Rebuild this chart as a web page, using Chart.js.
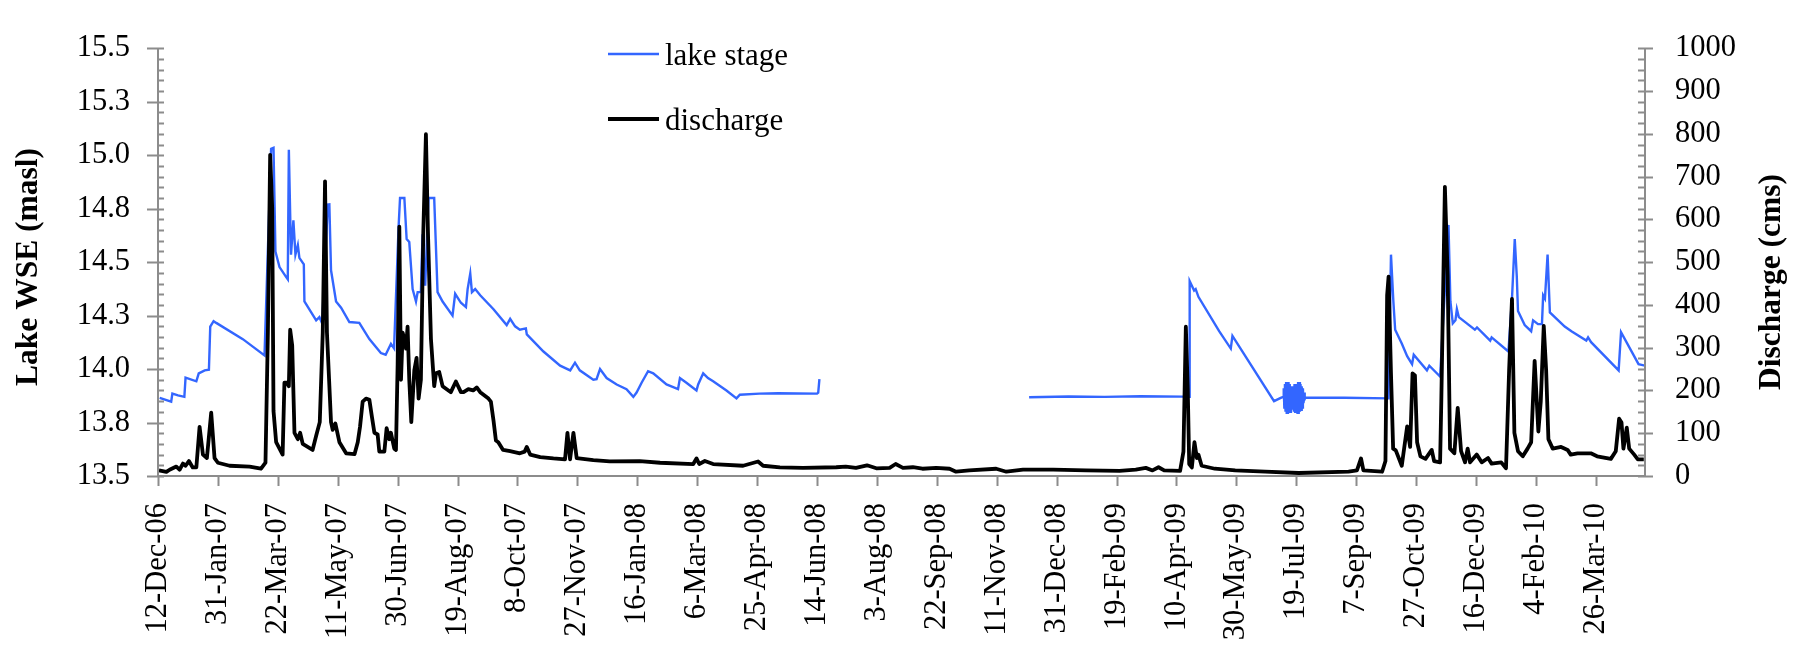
<!DOCTYPE html>
<html>
<head>
<meta charset="utf-8">
<script src="https://cdn.jsdelivr.net/npm/chart.js@4.4.1/dist/chart.umd.min.js"></script>
<style>
  html, body { margin: 0; padding: 0; background: #fff; }
  #wrap { width: 1805px; height: 645px; }
</style>
</head>
<body>
<div id="wrap"><canvas id="c" width="1805" height="645"></canvas></div>
<script>
// ---------- DATA (days counted from 12-Dec-06) ----------
const tickLabels = ["12-Dec-06","31-Jan-07","22-Mar-07","11-May-07","30-Jun-07","19-Aug-07","8-Oct-07",
  "27-Nov-07","16-Jan-08","6-Mar-08","25-Apr-08","14-Jun-08","3-Aug-08","22-Sep-08","11-Nov-08",
  "31-Dec-08","19-Feb-09","10-Apr-09","30-May-09","19-Jul-09","7-Sep-09","27-Oct-09","16-Dec-09",
  "4-Feb-10","26-Mar-10"];

const stageDays = [1.4,11,12,16.7,22,23,32,34,39,42.5,43.6,46.4,48.6,70.8,88.9,94.4,96.4,98,101.4,107,108.3,109.2,
  111,113,114.7,116.7,118,121.7,122.2,132,134.7,137,141.7,143,144.4,148.6,152.8,159.7,168,176.4,186,190,194.4,197,
  200.8,202,205.6,207.5,209.7,212.5,215.3,216.7,219.4,220.8,223,225.8,230.5,233.3,237.5,245.8,248,252.8,257,258.4,
  260.6,262,264.7,268.9,280,291,293.9,298,302,307,307.8,321.7,335.6,344,348,352,363.3,366,368.9,374.4,382.8,391,
  396.7,399.4,403.6,409,413.3,424.4,434,435.6,441,449.4,450.8,455,459,463.3,474.4,482.8,485.6,502,517.5,550,551,552,
  640,
  727,760,790,820,855,860.6,861,864.7,866,868.3,885.6,895.3,896.7,931.4,937,
  939,939.5,940,940.5,941,941.5,942,942.5,943,943.5,944,944.5,945,945.5,946,946.5,947,947.5,948,948.5,949,949.5,
  950,950.5,951,951.5,952,952.5,953,953.5,954,954.5,955,955.5,956,956.5,957,
  957.5,990,1027,1029,1031,1032.5,1038,1042.5,1046.6,1048,1059,1061,1070,1077,1078.6,1080.6,1082.8,1084,1085.6,
  1099,1100.8,1111.8,1113,1127,1130,1132.3,1134,1135,1140.6,1146,1147.6,1151.7,1155,1156,1157.5,1159.7,1161.6,
  1174,1179.6,1192,1193.5,1196,1219,1221,1235.6,1241];
const stageValues = [13.865,13.848,13.885,13.877,13.87,13.96,13.943,13.98,13.994,13.997,14.199,14.224,14.216,14.14,
  14.064,15.03,15.035,14.55,14.477,14.43,14.42,15.025,14.535,14.696,14.535,14.58,14.52,14.49,14.316,14.228,14.243,
  14.213,14.769,14.77,14.462,14.316,14.287,14.22,14.216,14.14,14.075,14.067,14.118,14.097,14.667,14.80,14.80,14.608,
  14.594,14.374,14.316,14.36,14.36,14.63,14.39,14.80,14.80,14.36,14.316,14.25,14.352,14.31,14.29,14.374,14.447,14.36,
  14.374,14.345,14.28,14.206,14.235,14.2,14.184,14.19,14.162,14.082,14.016,13.994,14.03,13.994,13.95,13.953,14.0,
  13.958,13.928,13.906,13.87,13.89,13.936,13.99,13.98,13.928,13.906,13.958,13.936,13.9,13.928,13.98,13.958,13.943,
  13.9,13.863,13.88,13.885,13.887,13.885,13.89,13.953,
  null,
  13.868,13.872,13.870,13.873,13.871,13.87,14.411,14.367,14.374,14.338,14.177,14.096,14.155,13.85,13.865,
  13.87,13.91,13.82,13.93,13.80,13.94,13.79,13.94,13.79,13.94,13.80,13.93,13.80,13.92,13.81,13.92,13.81,13.92,13.80,
  13.93,13.80,13.93,13.80,13.93,13.79,13.94,13.79,13.94,13.80,13.93,13.81,13.92,13.82,13.91,13.84,13.89,13.86,
  13.866,13.866,13.863,14.535,14.316,14.184,14.12,14.06,14.023,14.067,13.994,14.016,13.965,14.674,14.316,14.214,
  14.228,14.28,14.243,14.184,14.195,14.133,14.148,14.082,14.33,14.608,14.433,14.272,14.206,14.177,14.228,14.21,
  14.21,14.345,14.33,14.535,14.265,14.199,14.177,14.133,14.148,14.126,13.994,14.172,14.023,14.016];

const dischargeDays = [0.8,7,9.7,15.3,18,20.8,23,25.8,29,32,34.7,37.5,40.8,44.4,47.2,50,59.7,76.4,86,89.7,91.7,93.6,
  95.3,96.4,98.6,104,105.5,107.5,109.2,110.3,112,113.9,116.7,118.6,120.8,129,132,135,137.5,139.4,141,144.4,145.8,148,
  151.4,157,164,166.7,168.6,170.8,173.6,176.4,178.6,180.6,183.3,184.7,188.9,190.8,193,194.4,197.2,198.6,200,201.4,
  202.8,204.2,205.6,207,208.3,209.7,211.4,213.9,215.8,217.5,219.4,221.4,223.6,225.3,227.8,230.5,232,234.7,237.5,
  244.4,248.6,252.8,255,259,263,266,268.9,275.8,277.8,280,282,284,288,293.9,302,306,307.8,310.6,319,330,339.7,341.7,
  343.9,346.7,349.4,363.3,377,402,419,446.7,449.4,451.7,456.4,463.3,488.3,500.8,505,519,538.3,566,574,582.5,591.7,
  599.5,610.6,615.6,621.7,630,638,649.5,660.6,666,677,699.5,708,721.9,747,774.7,802.5,816,824.4,830,835,839.7,853,
  855.8,857.8,859.4,860.6,862.8,865,867,868.3,871,882,899,924,951.9,993.6,1000.6,1004,1006,1021.6,1024.4,1025.8,
  1027,1029,1030.8,1033,1038,1042.5,1045,1047,1049,1050.8,1053.6,1057.8,1063,1065,1070,1071,1074,1076.3,1078.3,
  1081.9,1084.7,1087.5,1090.8,1093,1095,1100.6,1104.7,1110,1113,1121,1125,1127.6,1130,1132,1135,1139,1143,1146,
  1148.9,1152,1154,1156.5,1158.5,1160.4,1164,1171,1176.4,1179,1184.7,1195.8,1201,1212.5,1216.6,1219.4,1221.4,1223,
  1225.8,1227.8,1232,1235,1240];
const dischargeValues = [13,9.5,14.6,22,14.6,29,24,35,20,20,115,50,42,148,42,31,24,22,17,31,335,751,627,152,79,50,218,
  218,210,342,305,101,86,101,75,61,94,126,335,689,335,126,108,123,79,53,51,79,115,174,181,178,137,101,97,57,57,112,
  86,101,64,61,262,583,225,335,320,298,349,225,126,247,276,181,225,569,799,569,320,210,240,243,210,196,221,196,196,
  203,200,207,196,181,174,130,83,79,61,58,53,57,68,50,44,41,39,101,39,101,42,37,34,35,31,28,41,28,35,28,24,34,24,20,
  19,20.5,22,19,25,18,19,28,19,20.5,17,19,17,10,13,17,10,15,15,13,12,15,19,13,20.5,13,12,57,349,203,28,20,79,42,50,
  24,17,13,10,7,10,13,41,13,10,35,423,466,240,64,60,24,116,68,240,235,79,46,40,61,35,32,174,676,469,64,53,159,58,
  32,64,32,50,32,42,29,32,18,247,414,101,58,46,64,79,269,104,174,351,247,86,64,68,61,50,53,53,46,40,58,134,125,64,
  113,64,50,39,39];

const leftTitle = "Lake WSE (masl)";
const rightTitle = "Discharge (cms)";

// ---------- STYLE ----------
const FONT = "'Liberation Serif', 'Times New Roman', serif";
const AXIS_COLOR = "#8c8c8c";
const BLUE = "#3366ff";

const stagePts = stageDays.map((d, i) => ({ x: d, y: stageValues[i] }));
const dischargePts = dischargeDays.map((d, i) => ({ x: d, y: dischargeValues[i] }));

const axesPlugin = {
  id: 'axesPlugin',
  afterDraw(chart) {
    const ctx = chart.ctx;
    const a = chart.chartArea;
    const sx = chart.scales.x, sy = chart.scales.y, sy2 = chart.scales.y2;
    ctx.save();
    ctx.strokeStyle = AXIS_COLOR;
    ctx.lineWidth = 2;
    ctx.beginPath();
    ctx.moveTo(a.left, a.top); ctx.lineTo(a.left, a.bottom);
    ctx.moveTo(a.right, a.top); ctx.lineTo(a.right, a.bottom);
    ctx.moveTo(a.left, a.bottom); ctx.lineTo(a.right, a.bottom);
    for (let i = 0; i <= 40; i++) {
      const v = 13.5 + i * 0.05;
      const y = Math.round(sy.getPixelForValue(v)) + 0.5;
      if (i % 5 === 0) { ctx.moveTo(a.left - 11, y); ctx.lineTo(a.left + 6, y); }
      else { ctx.moveTo(a.left, y); ctx.lineTo(a.left + 6, y); }
    }
    for (let i = 0; i <= 40; i++) {
      const v = i * 25;
      const y = Math.round(sy2.getPixelForValue(v)) + 0.5;
      if (i % 4 === 0) { ctx.moveTo(a.right - 7, y); ctx.lineTo(a.right + 8, y); }
      else { ctx.moveTo(a.right - 7, y); ctx.lineTo(a.right, y); }
    }
    sx.ticks.forEach(t => {
      const x = Math.round(sx.getPixelForValue(t.value)) + 0.5;
      ctx.moveTo(x, a.bottom); ctx.lineTo(x, a.bottom + 10);
    });
    ctx.stroke();

    ctx.fillStyle = '#000';
    ctx.font = "bold 31.5px " + FONT;
    ctx.textAlign = 'center';
    ctx.textBaseline = 'middle';
    ctx.save(); ctx.translate(29, 267); ctx.rotate(-Math.PI / 2); ctx.fillText(leftTitle, 0, 0); ctx.restore();
    ctx.save(); ctx.translate(1772, 282); ctx.rotate(-Math.PI / 2); ctx.fillText(rightTitle, 0, 0); ctx.restore();

    const ds = chart.data.datasets;
    const legendRows = [
      { d: ds[1], lineY: 54, textY: 65 },
      { d: ds[0], lineY: 119, textY: 130 }
    ];
    ctx.font = "31px " + FONT;
    ctx.textAlign = 'left';
    ctx.textBaseline = 'alphabetic';
    legendRows.forEach(r => {
      ctx.strokeStyle = r.d.borderColor;
      ctx.lineWidth = r.d.borderWidth;
      ctx.beginPath(); ctx.moveTo(608, r.lineY); ctx.lineTo(659, r.lineY); ctx.stroke();
      ctx.fillText(r.d.label, 665, r.textY);
    });
    ctx.restore();
  }
};

new Chart(document.getElementById('c'), {
  type: 'line',
  data: {
    datasets: [
      { label: 'discharge', data: dischargePts, yAxisID: 'y2', borderColor: '#000000', borderWidth: 3.8,
        pointRadius: 0, tension: 0, fill: false, order: 0, borderJoinStyle: 'round' },
      { label: 'lake stage', data: stagePts, yAxisID: 'y', borderColor: BLUE, borderWidth: 2.4,
        pointRadius: 0, tension: 0, fill: false, spanGaps: false, order: 1 }
    ]
  },
  options: {
    responsive: false,
    animation: false,
    devicePixelRatio: 1,
    layout: { padding: { top: 20, left: 0, right: 0, bottom: 0 } },
    plugins: { legend: { display: false }, tooltip: { enabled: false } },
    scales: {
      x: {
        type: 'linear', min: 0, max: 1241,
        afterBuildTicks: s => { s.ticks = tickLabels.map((_, i) => ({ value: i * 50 })); },
        afterFit: s => { s.height = 169; },
        grid: { display: false, drawTicks: false },
        border: { display: false },
        ticks: {
          autoSkip: false, maxRotation: 90, minRotation: 90, padding: 27,
          color: '#000', font: { family: FONT, size: 30.5 },
          callback: v => tickLabels[Math.round(v / 50)]
        }
      },
      y: {
        position: 'left', min: 13.5, max: 15.5,
        afterFit: s => { s.width = 158; },
        grid: { display: false, drawTicks: false },
        border: { display: false },
        ticks: { stepSize: 0.25, padding: 28, color: '#000', font: { family: FONT, size: 30.5 },
          callback: v => Number(v).toFixed(1) }
      },
      y2: {
        position: 'right', min: 0, max: 1000,
        afterFit: s => { s.width = 160; },
        grid: { display: false, drawTicks: false },
        border: { display: false },
        ticks: { stepSize: 100, padding: 30, color: '#000', font: { family: FONT, size: 30.5 },
          callback: v => String(v) }
      }
    }
  },
  plugins: [axesPlugin]
});
</script>
</body>
</html>
